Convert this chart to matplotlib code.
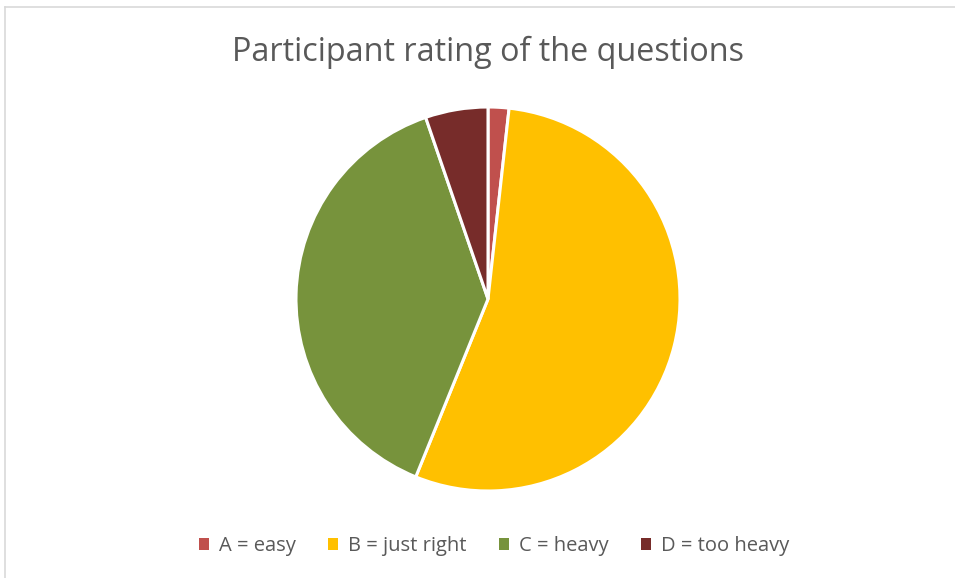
import matplotlib

matplotlib.use("Agg")
import matplotlib.pyplot as plt
from matplotlib.lines import Line2D
from matplotlib.patches import Patch

labels = ["A = easy", "B = just right", "C = heavy", "D = too heavy"]
counts = [1, 31, 22, 3]
colors = ["#C0504D", "#FFC000", "#77933C", "#772C2A"]
title = "Participant rating of the questions"

plt.rcParams["font.family"] = ["Open Sans", "DejaVu Sans"]

W, H = 955, 578
fig = plt.figure(figsize=(W / 100, H / 100), dpi=100)

# chart frame: only top and left edges show in the reference
fig.add_artist(Line2D([5 / W, 5 / W], [0, 1 - 7 / H], color="#D9D9D9", lw=1.2))
fig.add_artist(Line2D([5 / W, 1], [1 - 7 / H, 1 - 7 / H], color="#D9D9D9", lw=1.2))

cx, cy, r = 488, 299, 192
ax = fig.add_axes([(cx - r) / W, (H - cy - r) / H, 2 * r / W, 2 * r / H])
ax.pie(counts, colors=colors, startangle=90, counterclock=False,
       wedgeprops=dict(edgecolor="white", linewidth=2.2))
ax.set_xlim(-1, 1)
ax.set_ylim(-1, 1)
ax.set_aspect("equal")
ax.axis("off")

fig.text(cx / W, 1 - 52 / H, title, ha="center", va="center",
         fontsize=23.3, color="#595959")

handles = [Patch(facecolor=c, edgecolor="none") for c in colors]
fig.legend(handles, labels, loc="center", bbox_to_anchor=(494 / W, 1 - 546 / H),
           ncol=4, frameon=False, fontsize=14.5, handlelength=0.5, handleheight=0.5,
           handletextpad=0.5, columnspacing=1.6, labelcolor="#595959")

fig.savefig("out.png", dpi=100)
